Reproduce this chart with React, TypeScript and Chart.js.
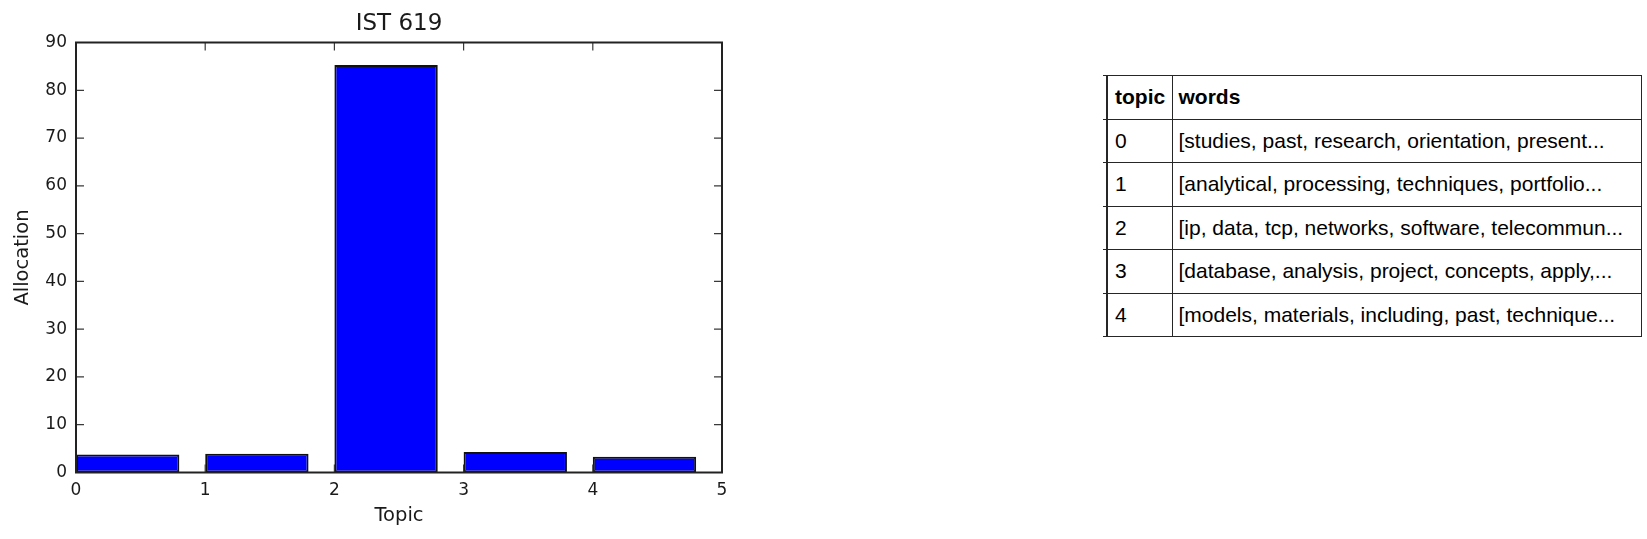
import React, { useEffect, useRef } from "react";
import { Chart, registerables } from "chart.js";

Chart.register(...registerables);

const chartTitle = "IST 619";
const xAxisLabel = "Topic";
const yAxisLabel = "Allocation";
const topics = [0, 1, 2, 3, 4];
const allocation = [3.75, 3.9, 85.3, 4.3, 3.3];
const xTickValues = [0, 1, 2, 3, 4, 5];
const yTickValues = [0, 10, 20, 30, 40, 50, 60, 70, 80, 90];
const barWidthUnits = 0.8;

const tableHeaders = ["topic", "words"];
const tableTopics = [0, 1, 2, 3, 4];
const tableWords = [
  "[studies, past, research, orientation, present...",
  "[analytical, processing, techniques, portfolio...",
  "[ip, data, tcp, networks, software, telecommun...",
  "[database, analysis, project, concepts, apply,...",
  "[models, materials, including, past, technique...",
];

const FONT = "'DejaVu Sans', sans-serif";
const TEXT = "#1a1a1a";

const framePlugin = {
  id: "mplFrame",
  afterDatasetsDraw(chart: any) {
    const { ctx, chartArea, scales } = chart;
    const { left, right, top, bottom } = chartArea;
    const len = 8;
    ctx.save();
    ctx.strokeStyle = "#3a3a3a";
    ctx.lineWidth = 1.2;
    ctx.beginPath();
    xTickValues.forEach((v) => {
      const px = scales.x.getPixelForValue(v);
      ctx.moveTo(px, bottom);
      ctx.lineTo(px, bottom - len);
      ctx.moveTo(px, top);
      ctx.lineTo(px, top + len);
    });
    yTickValues.forEach((v) => {
      const py = scales.y.getPixelForValue(v);
      ctx.moveTo(left, py);
      ctx.lineTo(left + len, py);
      ctx.moveTo(right, py);
      ctx.lineTo(right - len, py);
    });
    ctx.stroke();
    ctx.strokeStyle = "#222";
    ctx.lineWidth = 2;
    ctx.strokeRect(left, top, right - left, bottom - top);
    ctx.restore();
  },
};

function BarChart() {
  const ref = useRef<HTMLCanvasElement | null>(null);
  useEffect(() => {
    if (!ref.current) return;
    const chart = new Chart(ref.current, {
      type: "bar",
      data: {
        datasets: [
          {
            data: topics.map((t, i) => ({ x: t + barWidthUnits / 2, y: allocation[i] })),
            backgroundColor: "#0000ff",
            borderColor: "#111",
            borderWidth: 2,
            borderSkipped: false,
            categoryPercentage: barWidthUnits,
            barPercentage: 1,
          },
        ],
      },
      options: {
        animation: false,
        responsive: false,
        layout: { padding: { left: 0, right: 38, top: 0, bottom: 0 } },
        plugins: {
          legend: { display: false },
          tooltip: { enabled: false },
          title: {
            display: true,
            fullSize: false,
            text: chartTitle,
            color: TEXT,
            font: { family: FONT, size: 23, weight: "normal" },
            padding: { top: 10, bottom: 4.9 },
          },
        },
        scales: {
          x: {
            type: "linear",
            min: 0,
            max: 5,
            offset: false,
            afterFit: (s: any) => {
              s.height = 66.5;
            },
            afterBuildTicks: (s: any) => {
              s.ticks = xTickValues.map((v) => ({ value: v }));
            },
            grid: { display: false, drawTicks: false, offset: false },
            border: { display: false },
            ticks: {
              color: TEXT,
              font: { family: FONT, size: 17 },
              padding: 8,
              maxRotation: 0,
            },
            title: {
              display: true,
              text: xAxisLabel,
              color: TEXT,
              font: { family: FONT, size: 19.5 },
              padding: { top: 0, bottom: 11 },
            },
          },
          y: {
            type: "linear",
            min: 0,
            max: 90,
            afterFit: (s: any) => {
              s.width = 76;
            },
            afterBuildTicks: (s: any) => {
              s.ticks = yTickValues.map((v) => ({ value: v }));
            },
            grid: { display: false, drawTicks: false },
            border: { display: false },
            ticks: {
              color: TEXT,
              font: { family: FONT, size: 17 },
              padding: 9,
            },
            title: {
              display: true,
              text: yAxisLabel,
              color: TEXT,
              font: { family: FONT, size: 19.5 },
              padding: { top: 11, bottom: 0 },
            },
          },
        },
      },
      plugins: [framePlugin],
    } as any);
    return () => chart.destroy();
  }, []);
  return <canvas ref={ref} width={760} height={539} style={{ display: "block" }} />;
}

const border = "1.5px solid #262626";

function TopicTable() {
  const cellBase: React.CSSProperties = {
    borderTop: border,
    borderBottom: border,
    padding: "0 7px",
    height: 43.5,
    boxSizing: "border-box",
    verticalAlign: "middle",
    whiteSpace: "nowrap",
    textAlign: "left",
  };
  const phantom: React.CSSProperties = {
    borderTop: border,
    borderBottom: border,
    padding: 0,
    width: 4,
  };
  const c1: React.CSSProperties = { ...cellBase, borderLeft: "2px solid #262626", borderRight: border };
  const c2: React.CSSProperties = { ...cellBase, borderRight: border, padding: "0 6px" };
  return (
    <table
      style={{
        position: "absolute",
        left: 1103,
        top: 75,
        borderCollapse: "collapse",
        tableLayout: "fixed",
        width: 538,
        fontFamily: "'Liberation Sans', Arial, sans-serif",
        fontSize: 21,
        color: "#000",
      }}
    >
      <colgroup>
        <col style={{ width: 4 }} />
        <col style={{ width: 65 }} />
        <col style={{ width: 469 }} />
      </colgroup>
      <thead>
        <tr>
          <th style={phantom}></th>
          <th style={{ ...c1, fontWeight: "bold" }}>{tableHeaders[0]}</th>
          <th style={{ ...c2, fontWeight: "bold" }}>{tableHeaders[1]}</th>
        </tr>
      </thead>
      <tbody>
        {tableTopics.map((t, i) => (
          <tr key={t}>
            <td style={phantom}></td>
            <td style={c1}>{t}</td>
            <td style={c2}>{tableWords[i]}</td>
          </tr>
        ))}
      </tbody>
    </table>
  );
}

export default function App() {
  return (
    <div
      style={{
        position: "fixed",
        left: 0,
        top: 0,
        width: 1647,
        height: 539,
        background: "#fff",
        overflow: "hidden",
      }}
    >
      <BarChart />
      <TopicTable />
    </div>
  );
}
